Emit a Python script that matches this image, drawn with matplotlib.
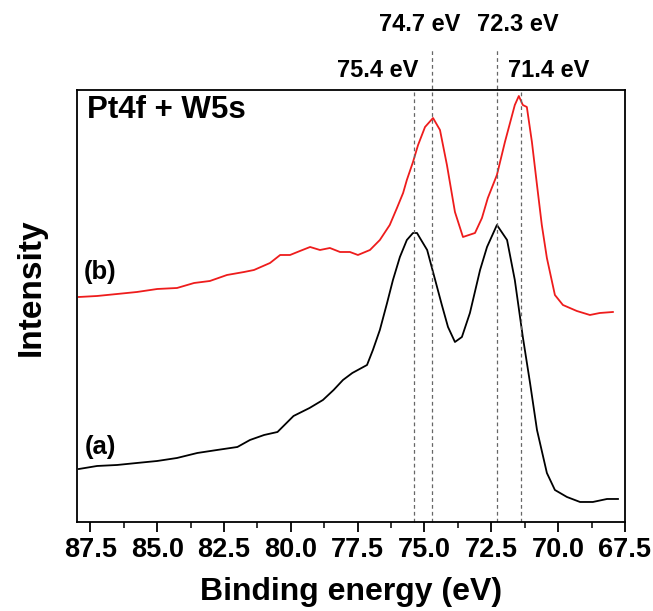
import matplotlib
matplotlib.use("Agg")
import matplotlib.pyplot as plt
import matplotlib.transforms as mtransforms
from matplotlib.ticker import MultipleLocator

plt.rcParams['font.family'] = ['Liberation Sans', 'DejaVu Sans']
plt.rcParams['font.weight'] = 'bold'

# curve (a), black
energy_a = [87.93, 87.25, 86.5, 85.76, 85.0, 84.26, 83.5, 82.76, 82.0, 81.53, 81.0, 80.5,
            79.9, 79.3, 78.8, 78.4, 78.05, 77.7, 77.15, 76.93, 76.67, 76.4, 76.18, 75.92,
            75.66, 75.43, 75.28, 75.17, 74.9, 74.68, 74.35, 74.12, 73.86, 73.6, 73.3, 72.92,
            72.66, 72.29, 71.91, 71.62, 71.32, 71.05, 70.79, 70.42, 70.12, 69.67, 69.18, 68.7,
            68.17, 67.76]
intens_a = [53, 56, 57, 59, 61, 64, 69, 72, 75, 82, 87, 90,
            106, 114, 122, 132, 142, 149, 157, 172, 192, 219, 242, 265,
            282, 289, 289, 284, 272, 250, 217, 195, 180, 185, 209, 252,
            275, 297, 282, 242, 185, 139, 92, 49, 32, 25, 20, 20,
            23, 23]

# curve (b), red
energy_b = [87.93, 87.25, 86.5, 85.76, 85.0, 84.26, 83.62, 83.03, 82.39, 81.75, 81.38, 80.78,
            80.4, 80.03, 79.66, 79.28, 78.91, 78.54, 78.16, 77.79, 77.49, 77.04, 76.67, 76.3,
            76.03, 75.8, 75.66, 75.43, 75.24, 74.98, 74.68, 74.42, 74.16, 73.86, 73.56, 73.11,
            72.85, 72.63, 72.29, 71.99, 71.62, 71.47, 71.32, 71.17, 70.98, 70.79, 70.61, 70.42,
            70.12, 69.82, 69.3, 68.81, 68.44, 67.95]
intens_b = [225, 226, 228, 230, 233, 234, 239, 241, 247, 250, 252, 259,
            267, 267, 271, 275, 272, 274, 270, 270, 267, 272, 282, 297,
            314, 329, 342, 360, 377, 395, 404, 392, 357, 310, 285, 289,
            304, 324, 347, 380, 417, 426, 417, 415, 380, 337, 297, 264,
            227, 217, 211, 207, 209, 210]

peak_pos = [75.4, 74.7, 72.3, 71.4]
peak_labels = ['75.4 eV', '74.7 eV', '72.3 eV', '71.4 eV']
label_x = [76.74, 75.17, 71.5, 70.34]
label_y = [1.045, 1.152, 1.152, 1.045]
line_top = [1.0, 1.097, 1.097, 1.0]

fig = plt.figure(figsize=(6.53, 6.11), dpi=100)
ax = fig.add_axes([0.118, 0.1457, 0.839, 0.707])

ax.plot(energy_a, intens_a, color='black', lw=1.3)
ax.plot(energy_b, intens_b, color='#ee1c1c', lw=1.3)

trans = mtransforms.blended_transform_factory(ax.transData, ax.transAxes)
for p, lab, lx, ly, top in zip(peak_pos, peak_labels, label_x, label_y, line_top):
    ax.plot([p, p], [0, top], transform=trans, color='#666666', lw=0.9,
            ls=(0, (3, 2.5)), clip_on=False)
    ax.text(lx, ly, lab, transform=trans, ha='center', va='center',
            fontsize=17, fontweight='bold')

ax.text(0.018, 0.988, 'Pt4f + W5s', transform=ax.transAxes, ha='left', va='top',
        fontsize=22.5, fontweight='bold')
ax.text(0.042, 0.579, '(b)', transform=ax.transAxes, ha='center', va='center',
        fontsize=18.5, fontweight='bold')
ax.text(0.042, 0.174, '(a)', transform=ax.transAxes, ha='center', va='center',
        fontsize=18.5, fontweight='bold')

ax.set_xlim(88.0, 67.5)
ax.set_ylim(0, 432)
ax.xaxis.set_major_locator(MultipleLocator(2.5))
ax.xaxis.set_minor_locator(MultipleLocator(1.25))
ax.xaxis.set_major_formatter(plt.FormatStrFormatter('%.1f'))
ax.set_yticks([])
ax.tick_params(axis='x', which='major', length=7, width=1.3, labelsize=19.5, pad=4)
ax.tick_params(axis='x', which='minor', length=4, width=1.1)
for s in ax.spines.values():
    s.set_linewidth(1.3)

ax.set_xlabel('Binding energy (eV)', fontsize=23, fontweight='bold', labelpad=10)
ax.set_ylabel('Intensity', fontsize=24, fontweight='bold')
ax.yaxis.set_label_coords(-0.055, 0.544)

fig.savefig('out.png', dpi=100)
